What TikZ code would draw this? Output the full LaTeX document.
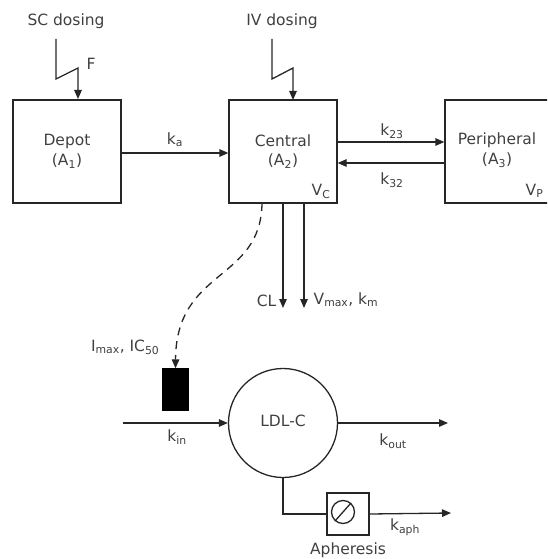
\documentclass[tikz,border=0pt]{standalone}
\usepackage{fontspec}
\setmainfont{DejaVu Sans}
\usetikzlibrary{arrows.meta}
\begin{document}
\begin{tikzpicture}[x=1pt,y=-1pt,
  line width=1.3pt,
  lc/.style={draw=black!85},
  arr/.style={lc,-{Triangle[length=9pt,width=7.5pt]}},
  box/.style={lc,rectangle,minimum width=108pt,minimum height=103pt,inner sep=0pt,align=center},
  lbl/.style={text=black!75,font=\fontsize{15.5}{19}\selectfont,inner sep=0pt},
  txt/.style={text=black!75,font=\fontsize{15.5}{19.5}\selectfont,align=center}
]
\clip (0,0) rectangle (547,559);
\useasboundingbox (0,0) rectangle (547,559);
% compartments
\node[box,txt] (depot) at (67,151.5) {Depot\\(A\textsubscript{1})};
\node[box,txt] (central) at (283,151.5) {Central\\(A\textsubscript{2})};
\node[box,minimum width=112pt] (periph) at (501,151.5) {};
\node[txt,anchor=center] (periphtxt) at (497,150) {Peripheral\\(A\textsubscript{3})};
\node[lbl,anchor=base east] (vc) at (331,195) {V\textsubscript{C}};
\node[lbl,anchor=base west] (vp) at (525,195) {V\textsubscript{P}};
% dosing
\node[lbl] (sc) at (66,21) {SC dosing};
\node[lbl] (iv) at (282,21) {IV dosing};
\coordinate (sc1) at (56,39);
\coordinate (sc2) at (56,79);
\coordinate (sc3) at (78,68);
\coordinate (sc4) at (78,99);
\draw[arr,line join=miter] (sc1) -- (sc2) -- (sc3) -- (sc4);
\node[lbl] (F) at (91,64) {F};
\coordinate (iv1) at (272,39);
\coordinate (iv2) at (272,79);
\coordinate (iv3) at (293,68);
\coordinate (iv4) at (293,100);
\draw[arr,line join=miter] (iv1) -- (iv2) -- (iv3) -- (iv4);
% transfers
\draw[arr] (depot.east |- 0,153) -- (central.west |- 0,153);
\node[lbl] (ka) at (175,140) {k\textsubscript{a}};
\draw[arr] (central.east |- 0,142) -- (periph.west |- 0,142);
\node[lbl] (k23) at (392,131) {k\textsubscript{23}};
\draw[arr] (periph.west |- 0,163) -- (central.east |- 0,163);
\node[lbl] (k32) at (392,180) {k\textsubscript{32}};
% elimination
\coordinate (cl0) at (283,203);
\coordinate (cl1) at (283,308);
\coordinate (vm0) at (304,203);
\coordinate (vm1) at (304,308);
\draw[arr] (cl0) -- (cl1);
\draw[arr] (vm0) -- (vm1);
\node[lbl,anchor=east] (cl) at (277,301) {CL};
\node[lbl,anchor=west] (vm) at (313,300) {V\textsubscript{max}, k\textsubscript{m}};
% PD
\node[draw=black,fill=black,minimum width=25pt,minimum height=41pt,inner sep=0pt] (inh) at (175.5,389.5) {};
\coordinate (dash0) at (262,203);
\draw[arr,dash pattern=on 8pt off 6pt] (dash0) .. controls (261,282) and (176,268) .. (inh.north);
\node[lbl,anchor=east] (imax) at (160,347) {I\textsubscript{max}, IC\textsubscript{50}};
\node[lc,circle,minimum size=109pt,inner sep=0pt] (ldl) at (283,423) {};
\node[lbl] (ldltxt) at (283,421) {LDL-C};
\coordinate (kin0) at (123,423);
\draw[arr] (kin0) -- (ldl.west);
\node[lbl] (kin) at (177,437) {k\textsubscript{in}};
\coordinate (kout1) at (448,423);
\draw[arr] (ldl.east) -- (kout1);
\node[lbl] (kout) at (393,441) {k\textsubscript{out}};
\node[lc,rectangle,minimum size=42pt,inner sep=0pt] (aph) at (348,514) {};
\draw[lc] (343,512) circle (11.5pt);
\draw[lc] (335,521) -- (351,503);
\draw[lc] (ldl.south) |- (aph.west);
\coordinate (aph1) at (451,513);
\draw[arr] (aph.east) -- (aph1);
\node[lbl] (kaph) at (405,527) {k\textsubscript{aph}};
\node[lbl] (apht) at (348,550) {Apheresis};
\end{tikzpicture}
\end{document}
